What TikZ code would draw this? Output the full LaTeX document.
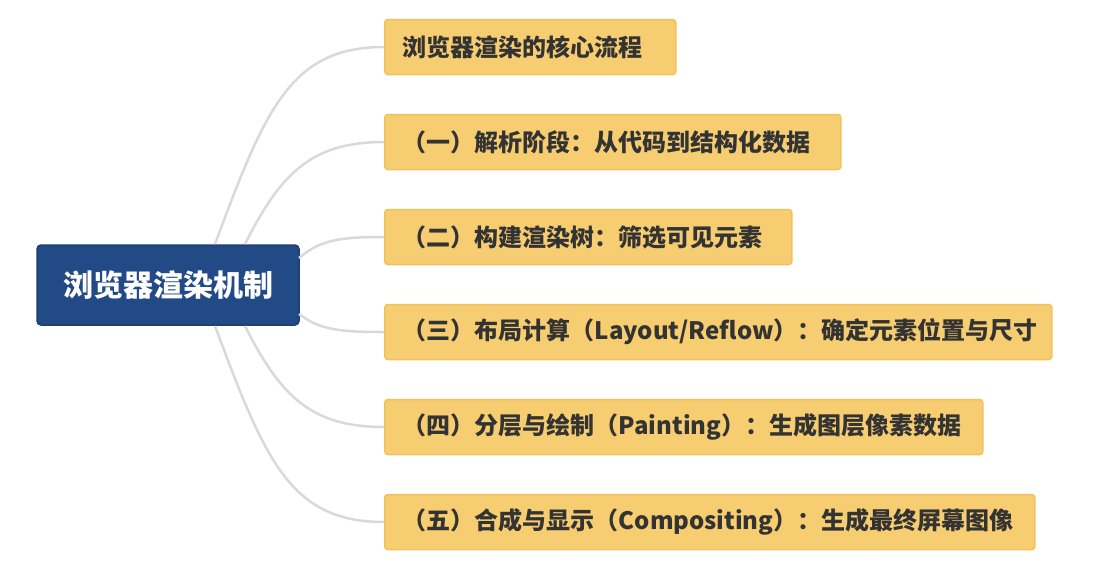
\documentclass[tikz,border=0pt]{standalone}
\usepackage{fontspec}
\setmainfont{Noto Sans CJK SC}
\definecolor{rootc}{HTML}{224A86}
\definecolor{boxf}{HTML}{F6CD70}
\definecolor{boxd}{HTML}{EFC35A}
\definecolor{linec}{HTML}{D9D9D9}
\definecolor{txt}{HTML}{333333}
\begin{document}
\begin{tikzpicture}[x=1pt,y=-1pt,
  rootbox/.style={fill=rootc,draw=rootc!85!black,line width=1.5pt,rounded corners=4pt,text=white,font=\fontsize{30}{34}\selectfont\bfseries,minimum width=262,minimum height=80,inner sep=0},
  kid/.style={fill=boxf,draw=boxd,line width=1.5pt,rounded corners=3pt,text=txt,font=\fontsize{24}{28}\selectfont\bfseries,minimum height=55,inner xsep=18,inner ysep=0,anchor=west,align=left},
  conn/.style={draw=linec,line width=2.5pt}]
\useasboundingbox (0,0) rectangle (1105,584);
\node[rootbox] (r) at (168,285) {浏览器渲染机制};
\node[kid,text width=255] (a) at (384,47) {浏览器渲染的核心流程};
\node[kid,text width=420] (b) at (384,142) {（一）解析阶段：从代码到结构化数据};
\node[kid,text width=371] (c) at (384,237) {（二）构建渲染树：筛选可见元素};
\node[kid,text width=631] (d) at (384,332) {（三）布局计算（Layout/Reflow）：确定元素位置与尺寸};
\node[kid,text width=562] (e) at (384,427) {（四）分层与绘制（Painting）：生成图层像素数据};
\node[kid,text width=614] (f) at (384,522) {（五）合成与显示（Compositing）：生成最终屏幕图像};
\coordinate (s1) at (215,244);
\coordinate (s2) at (245,244);
\coordinate (s3) at (299,258);
\coordinate (s4) at (299,314);
\coordinate (s5) at (245,326);
\coordinate (s6) at (215,326);
\draw[conn] (s1) .. controls (265,110) and (290,47) .. (a.west);
\draw[conn] (s2) .. controls (280,175) and (310,142) .. (b.west);
\draw[conn] (s3) .. controls (320,240) and (340,237) .. (c.west);
\draw[conn] (s4) .. controls (320,330) and (340,332) .. (d.west);
\draw[conn] (s5) .. controls (280,395) and (310,427) .. (e.west);
\draw[conn] (s6) .. controls (265,460) and (290,522) .. (f.west);
\end{tikzpicture}
\end{document}
